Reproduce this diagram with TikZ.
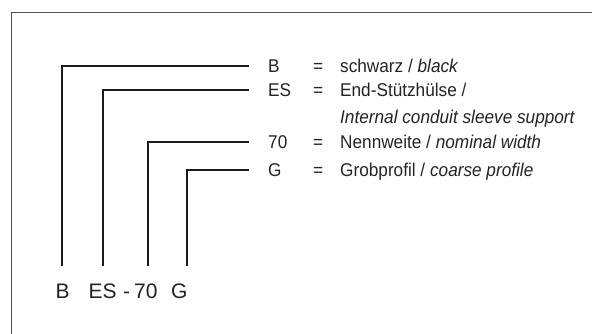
\documentclass[tikz,border=0pt]{standalone}
\usepackage{fontspec}
\setmainfont[FakeStretch=0.93]{Liberation Sans}
\newfontfamily\codefont{Liberation Sans}
\usepackage{xcolor}
\definecolor{framegray}{RGB}{80, 80, 80}
\definecolor{leadblack}{RGB}{25, 25, 25}
\definecolor{textgray}{RGB}{35, 35, 35}

\tikzset{
    leader/.style={leadblack,line width=2pt,shorten >=19pt},
    keylabel/.style={anchor=base west,inner sep=0pt,text=textgray,text height=13pt,text depth=0pt,font=\fontsize{18.5}{20}\selectfont},
    desclabel/.style={keylabel},
    codelabel/.style={anchor=base west,inner sep=0pt,text=textgray,font=\codefont\fontsize{21}{23}\selectfont}
}

\begin{document}
\begin{tikzpicture}[x=1pt,y=-1pt]
        \useasboundingbox (0,0) rectangle (592,334);
        \draw[framegray,line width=1pt] (11.7,334) -- (11.7,12.5) -- (592,12.5);

        \node[keylabel] (kB) at (268,72.8) {B};
        \node[keylabel] (kES) at (268,96.8) {ES};
        \node[keylabel] (k70) at (268,149) {70};
        \node[keylabel] (kG) at (268,176.3) {G};

        \foreach \name/\yy in {B/72.8,ES/96.8,70/149,G/176.3} {
            \node[keylabel] (eq\name) at (313,\yy) {=};
        }

        \node[desclabel] (dB) at (340,72.8) {schwarz / \textit{black}};
        \node[desclabel] (dES) at (340,96.8) {End-Stützhülse /};
        \node[desclabel] (dESen) at (340,123.2) {\textit{Internal conduit sleeve support}};
        \node[desclabel] (d70) at (340,149) {Nennweite / \textit{nominal width}};
        \node[desclabel] (dG) at (340,176.3) {Grobprofil / \textit{coarse profile}};

        \node[codelabel] (cB) at (55.5,298.5) {B};
        \node[codelabel] (cES) at (88.3,298.5) {ES};
        \node[codelabel] (cdash) at (123,298.5) {-};
        \node[codelabel] (c70) at (134,298.5) {70};
        \node[codelabel] (cG) at (171,298.5) {G};

        \foreach \name/\xx in {B/61.7,ES/102.7,70/148.3,G/186.7} {
            \coordinate (b\name) at (\xx,265.7);
            \draw[leader] (b\name) |- (k\name.west);
        }
    \end{tikzpicture}
\end{document}
